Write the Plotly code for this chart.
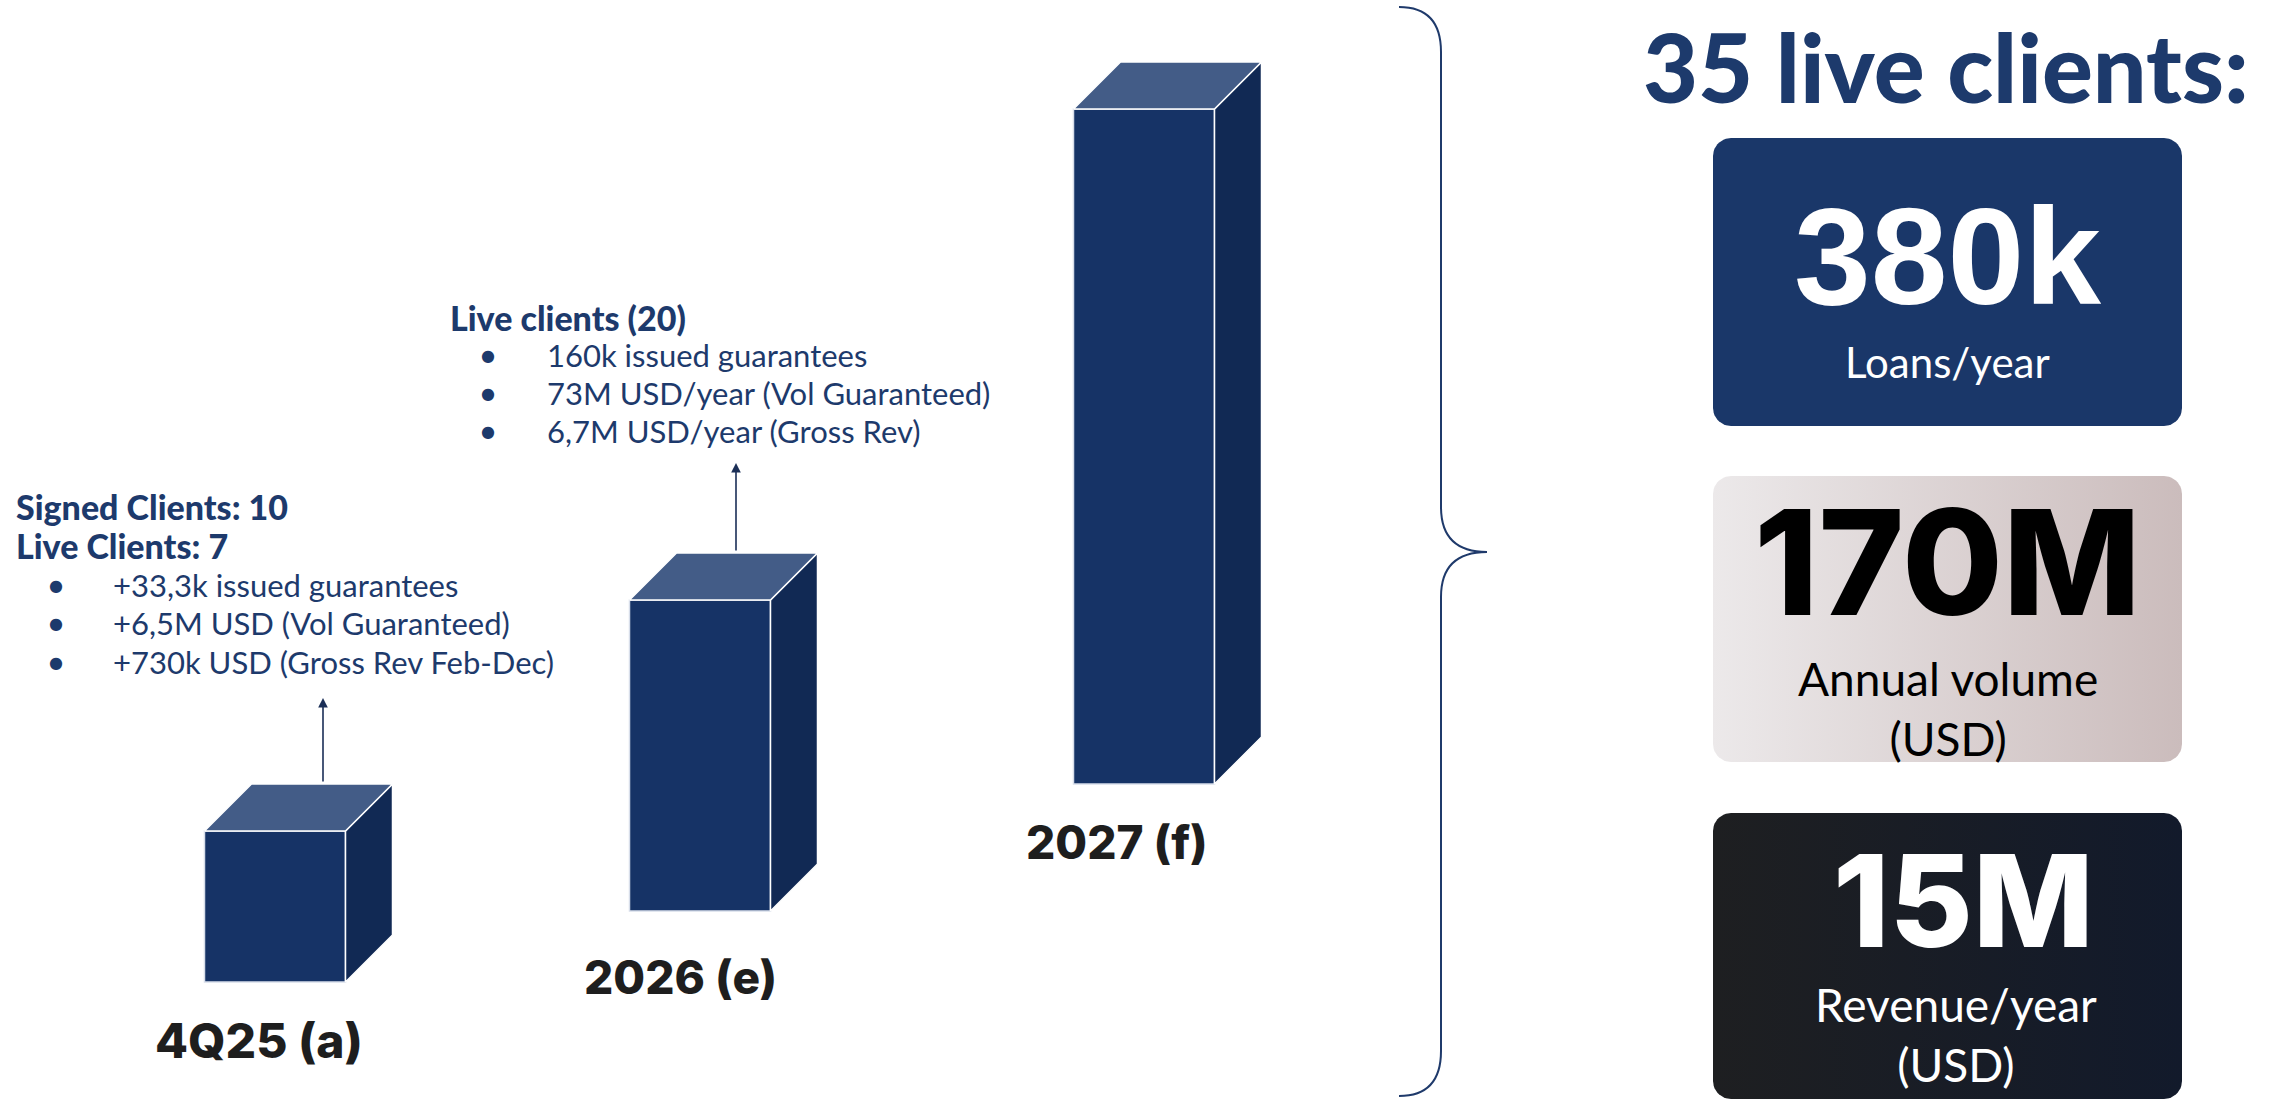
import numpy as np
import plotly.graph_objects as go

W, H = 2271, 1100

# ---------------- data ----------------
categories = ["4Q25 (a)", "2026 (e)", "2027 (f)"]
bar_heights = [151, 311, 675]          # visual height of each 3D bar (chart units)

block1_header = ["Signed Clients: 10", "Live Clients: 7"]
block1_bullets = ["+33,3k issued guarantees",
                  "+6,5M USD (Vol Guaranteed)",
                  "+730k USD (Gross Rev Feb-Dec)"]
block2_header = ["Live clients (20)"]
block2_bullets = ["160k issued guarantees",
                  "73M USD/year (Vol Guaranteed)",
                  "6,7M USD/year (Gross Rev)"]

summary_title = "35 live clients:"
kpi_values = ["380k", "170M", "15M"]
kpi_labels = ["Loans/year", "Annual volume<br>(USD)", "Revenue/year<br>(USD)"]

# ---------------- layout config (positions / styles) ----------------
def Y(p):  # convert screen pixel-y to chart y (y axis points up)
    return H - p

bar_centers = [275, 700, 1144]
bar_bottoms_px = [982, 911, 784]
bar_width = 141
depth = 47
label_pos_px = [(259, 1040), (680, 977), (1117, 842)]
label_sizes = [48, 46, 46]
arrow_x = [323, 736]
arrow_head_px = [698, 463]
arrow_tail_px = [783, 552]

NAVY_TXT = "#1D3A6C"
FRONT = "#163366"
TOP = "#435C87"
SIDE = "#112954"
HEAVY = "Inter"

fig = go.Figure()

# front faces as real bars
bases = [Y(b) for b in bar_bottoms_px]
fig.add_trace(go.Bar(
    x=bar_centers, y=bar_heights, base=bases, width=bar_width,
    marker=dict(color=FRONT, line=dict(color="#D8DEEA", width=1.5)),
    hoverinfo="skip", showlegend=False))

# top & side faces
tx, ty, sx, sy = [], [], [], []
for c, h, b in zip(bar_centers, bar_heights, bases):
    x0, x1 = c - bar_width / 2, c + bar_width / 2
    top = b + h
    tx += [x0, x1, x1 + depth, x0 + depth, x0, None]
    ty += [top, top, top + depth, top + depth, top, None]
    sx += [x1, x1 + depth, x1 + depth, x1, x1, None]
    sy += [top, top + depth, b + depth, b, top, None]
fig.add_trace(go.Scatter(x=sx, y=sy, fill="toself", fillcolor=SIDE, mode="lines",
                         line=dict(color="white", width=1.5), hoverinfo="skip", showlegend=False))
fig.add_trace(go.Scatter(x=tx, y=ty, fill="toself", fillcolor=TOP, mode="lines",
                         line=dict(color="white", width=1.5), hoverinfo="skip", showlegend=False))

# rounded boxes
def rrect(x0, y0, x1, y1, r, n=12):
    xs, ys = [], []
    corners = [(x1 - r, y1 - r, 0), (x0 + r, y1 - r, 90), (x0 + r, y0 + r, 180), (x1 - r, y0 + r, 270)]
    for cx, cy, a0 in corners:
        for t in np.linspace(np.radians(a0), np.radians(a0 + 90), n):
            xs.append(cx + r * np.cos(t))
            ys.append(cy + r * np.sin(t))
    xs.append(xs[0]); ys.append(ys[0])
    return xs, ys

bx0, bx1 = 1713, 2182
boxes_px = [(138, 426), (476, 762), (813, 1099)]
box_fills = [
    dict(fillcolor="#1A3769"),
    dict(fillgradient=dict(type="horizontal", colorscale=[[0, "#ECE9EA"], [1, "#CBBCBC"]])),
    dict(fillgradient=dict(type="horizontal", colorscale=[[0, "#1E1F21"], [1, "#121A2B"]])),
]
for (t, b), f in zip(boxes_px, box_fills):
    xs, ys = rrect(bx0, Y(b), bx1, Y(t), 18)
    fig.add_trace(go.Scatter(x=xs, y=ys, fill="toself", mode="lines",
                             line=dict(width=0, color="rgba(0,0,0,0)"),
                             hoverinfo="skip", showlegend=False, **f))

ann = []
# category labels
for lab, (lx, ly), fs in zip(categories, label_pos_px, label_sizes):
    ann.append(dict(x=lx, y=Y(ly), text=lab, showarrow=False, xanchor="center", yanchor="middle",
                    font=dict(family=HEAVY, size=fs, color="#1E1E1E", weight=800)))

# arrows
for axp, hp, tp in zip(arrow_x, arrow_head_px, arrow_tail_px):
    ann.append(dict(x=axp, y=Y(hp), ax=axp, ay=Y(tp), xref="x", yref="y", axref="x", ayref="y",
                    text="", showarrow=True, arrowhead=2, arrowsize=1.2, arrowwidth=1.6,
                    arrowcolor="#1B2F57", standoff=0, startstandoff=0))

# text blocks
def text_block(headers, bullets, x_head, y_head_list, x_bullet, x_text, y_bul_list):
    for h, yy in zip(headers, y_head_list):
        ann.append(dict(x=x_head, y=Y(yy), text=h, showarrow=False, xanchor="left", yanchor="middle",
                        font=dict(family="Lato", size=34, color=NAVY_TXT, weight=900)))
    for bt, yy in zip(bullets, y_bul_list):
        ann.append(dict(x=x_bullet, y=Y(yy), text="●", showarrow=False, xanchor="center", yanchor="middle",
                        font=dict(family="DejaVu Sans", size=16, color=NAVY_TXT)))
        ann.append(dict(x=x_text, y=Y(yy), text=bt, showarrow=False, xanchor="left", yanchor="middle",
                        font=dict(family="Lato", size=31, color=NAVY_TXT)))

text_block(block1_header, block1_bullets, 14, [506, 545], 56, 111, [585, 623, 662])
text_block(block2_header, block2_bullets, 448, [317], 488, 545, [355, 393, 431])

# summary title
ann.append(dict(x=1946, y=Y(66), text=summary_title, showarrow=False, xanchor="center", yanchor="middle",
                font=dict(family="Lato", size=95, color="#1D3A6C", weight=900)))

# KPI text
cx = (bx0 + bx1) / 2
kpi_x_shift = [0, 0, 16]
kpi_val_y = [256, 562, 900]
kpi_val_fonts = [dict(family="Liberation Sans", size=138, color="white", weight="bold"),
                 dict(family=HEAVY, size=146, color="black", weight=800),
                 dict(family=HEAVY, size=128, color="white", weight=800)]
kpi_lab_y = [362, 708, 1034]
kpi_lab_fonts = [dict(family="Lato", size=42, color="white"),
                 dict(family="Lato", size=46, color="black"),
                 dict(family="Lato", size=46, color="white")]
for v, dx, vy, vf, l, ly, lf in zip(kpi_values, kpi_x_shift, kpi_val_y, kpi_val_fonts,
                                    kpi_labels, kpi_lab_y, kpi_lab_fonts):
    ann.append(dict(x=cx + dx, y=Y(vy), text=v, showarrow=False, xanchor="center", yanchor="middle", font=vf))
    ann.append(dict(x=cx + dx / 2, y=Y(ly), text=l, showarrow=False, xanchor="center", yanchor="middle", font=lf))

# brace
bxv, bxl, bxt = 1441, 1399, 1487
yt, ym, yb = 7, 552, 1096
r = 45
path = (f"M {bxl},{Y(yt)} Q {bxv},{Y(yt)} {bxv},{Y(yt + r)} "
        f"L {bxv},{Y(ym - r)} Q {bxv},{Y(ym)} {bxt},{Y(ym)} "
        f"Q {bxv},{Y(ym)} {bxv},{Y(ym + r)} "
        f"L {bxv},{Y(yb - r)} Q {bxv},{Y(yb)} {bxl},{Y(yb)}")
shapes = [dict(type="path", path=path, xref="x", yref="y", line=dict(color="#1F3A6B", width=2))]

fig.update_layout(
    width=W, height=H, margin=dict(l=0, r=0, t=0, b=0),
    paper_bgcolor="white", plot_bgcolor="white",
    xaxis=dict(range=[0, W], visible=False, fixedrange=True),
    yaxis=dict(range=[0, H], visible=False, fixedrange=True),
    annotations=ann, shapes=shapes, showlegend=False)

fig.write_html("out.html", config=dict(displayModeBar=False))
